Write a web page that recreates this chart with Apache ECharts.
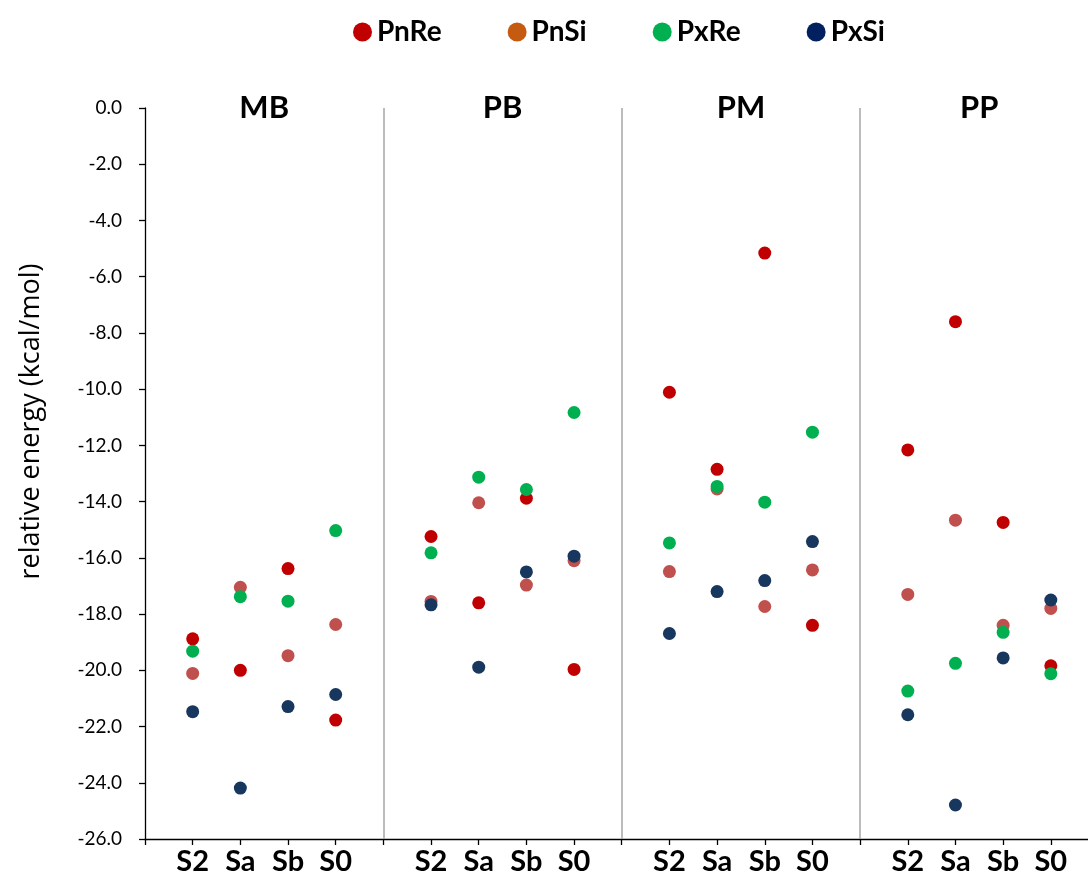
<!DOCTYPE html>
<html>
<head>
<meta charset="utf-8" />
<script src="https://cdn.jsdelivr.net/npm/echarts@6/dist/echarts.min.js"></script>
<style>
  html, body { margin: 0; padding: 0; background: #fff; }
  #chart_energy { width: 1088px; height: 883px; }
</style>
</head>
<body>
<div id="chart_energy"></div>
<script>
// groups along the x axis, each with 4 states
const groups = ["MB", "PB", "PM", "PP"];
const states = ["S2", "Sa", "Sb", "S0"];
const yTicks = [0, -2, -4, -6, -8, -10, -12, -14, -16, -18, -20, -22, -24, -26];

// relative energy (kcal/mol), order: MB S2..S0, PB S2..S0, PM S2..S0, PP S2..S0
const PnRe = [-18.88, -20.0, -16.38, -21.77, -15.24, -17.6, -13.88, -19.97, -10.11, -12.85, -5.16, -18.4, -12.16, -7.6, -14.74, -19.84];
const PnSi = [-20.11, -17.05, -19.48, -18.37, -17.55, -14.04, -16.97, -16.1, -16.49, -13.55, -17.73, -16.43, -17.3, -14.66, -18.4, -17.8];
const PxRe = [-19.32, -17.38, -17.54, -15.03, -15.82, -13.13, -13.57, -10.83, -15.47, -13.46, -14.02, -11.53, -20.74, -19.75, -18.65, -20.12];
const PxSi = [-21.47, -24.19, -21.29, -20.86, -17.67, -19.89, -16.5, -15.94, -18.69, -17.2, -16.81, -15.42, -21.58, -24.79, -19.56, -17.5];

// position on x: 4 slots per group, one empty slot as separator
const xPos = (i) => Math.floor(i / 4) * 5 + (i % 4) + 1;
const toPoints = (arr) => arr.map((v, i) => [xPos(i), v]);

const font = "Lato, 'Open Sans', sans-serif";
const chart = echarts.init(document.getElementById("chart_energy"));

const dotSeries = (name, color, data) => ({
  name: name,
  type: "scatter",
  symbol: "circle",
  symbolSize: 13,
  data: toPoints(data),
  itemStyle: { color: color, opacity: 1 },
  z: 3,
});

let option = {
  backgroundColor: "#fff",
  animation: false,
  textStyle: { fontFamily: font },
  legend: {
    left: 348,
    top: 13,
    itemWidth: 19,
    itemHeight: 19,
    itemGap: 66,
    icon: "circle",
    textStyle: { fontSize: 28, fontWeight: "bold", color: "#000", fontFamily: font },
    data: [
      { name: "PnRe", itemStyle: { color: "#C00000" } },
      { name: "PnSi", itemStyle: { color: "#C55A11" } },
      { name: "PxRe", itemStyle: { color: "#00B050" } },
      { name: "PxSi", itemStyle: { color: "#002060" } },
    ],
  },
  grid: { left: 145, right: 0, top: 108, bottom: 44 },
  xAxis: {
    type: "value",
    min: 0,
    max: 19.78,
    interval: 1,
    splitLine: { show: false },
    axisLine: { onZero: false, lineStyle: { color: "#000", width: 1.3 } },
    axisTick: { show: true, length: 6, lineStyle: { color: "#000", width: 1.3 } },
    axisLabel: {
      margin: 8,
      fontSize: 29,
      fontWeight: "bold",
      color: "#000",
      fontFamily: font,
      showMaxLabel: false,
      formatter: function (v) {
        if (v !== Math.round(v)) return "";
        const k = v % 5;
        return k === 0 ? "" : states[k - 1];
      },
    },
  },
  yAxis: {
    type: "value",
    min: yTicks[yTicks.length - 1],
    max: yTicks[0],
    interval: 2,
    name: "relative energy (kcal/mol)",
    nameLocation: "middle",
    nameGap: 100,
    nameTextStyle: { fontSize: 27, color: "#000", fontFamily: "'Open Sans', sans-serif", padding: [0, 0, 0, 104] },
    splitLine: { show: false },
    axisLine: { show: true, onZero: false, lineStyle: { color: "#000", width: 1.3 } },
    axisTick: { show: true, length: 6, lineStyle: { color: "#000", width: 1.3 } },
    axisLabel: {
      margin: 23,
      fontSize: 19,
      color: "#000",
      fontFamily: font,
      formatter: (v) => v.toFixed(1),
    },
  },
  series: [
    Object.assign(dotSeries("PnRe", "#C00000", PnRe), {
      markLine: {
        silent: true,
        symbol: "none",
        label: { show: false },
        lineStyle: { color: "#A6A6A6", width: 1.5, type: "solid" },
        data: [{ xAxis: 5 }, { xAxis: 10 }, { xAxis: 15 }],
      },
    }),
    dotSeries("PnSi", "#C0504D", PnSi),
    dotSeries("PxRe", "#00B050", PxRe),
    dotSeries("PxSi", "#17375E", PxSi),
    {
      name: "groups",
      type: "scatter",
      symbolSize: 0,
      clip: false,
      silent: true,
      itemStyle: { opacity: 1 },
      data: groups.map((g, k) => [k * 5 + 2.5, 0]),
      label: {
        show: true,
        position: "inside",
        fontSize: 31,
        fontWeight: "bold",
        color: "#000",
        opacity: 1,
        textBorderWidth: 0,
        fontFamily: font,
        formatter: (p) => groups[p.dataIndex],
      },
    },
  ],
};
chart.setOption(option);
</script>
</body>
</html>
